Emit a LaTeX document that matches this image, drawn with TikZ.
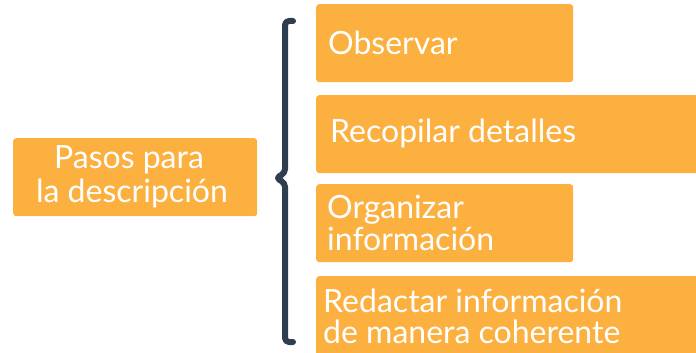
\documentclass[tikz,border=0pt]{standalone}
\usepackage{fontspec}
\setmainfont{Lato}
\definecolor{boxorange}{HTML}{FBB040}
\definecolor{bracecol}{HTML}{2E3D4F}
\begin{document}
\begin{tikzpicture}[x=1pt,y=-1pt,
  box/.style={fill=boxorange,rounded corners=3pt,anchor=north west,inner sep=0pt},
  txt/.style={text=white,font=\fontsize{32}{34}\selectfont,inner sep=0pt,anchor=base west},
  brace/.style={draw=bracecol,line width=6pt,line cap=round,line join=round}]
\useasboundingbox (0,0) rectangle (696,353);
\node[box,minimum width=244,minimum height=78] (main) at (13,138) {};
\node[box,minimum width=257,minimum height=78] (b1) at (316,4) {};
\node[box,minimum width=390,minimum height=78] (b2) at (316,95) {};
\node[box,minimum width=257,minimum height=78] (b3) at (316,184) {};
\node[box,minimum width=390,minimum height=86] (b4) at (316,276) {};
\node[txt,anchor=base] (m1) at (129,168) {Pasos para};
\node[txt,anchor=base] (m2) at (132,202) {la descripción};
\node[txt] (t1) at (328,55) {Observar};
\node[txt] (t2) at (330,142) {Recopilar detalles};
\node[txt] (t3a) at (327,218) {Organizar};
\node[txt] (t3b) at (327,250) {información};
\node[txt] (t4a) at (323,312) {Redactar información};
\node[txt] (t4b) at (323,343) {de manera coherente};
\draw[brace,rounded corners=4pt] (293,21) -- (285,21) -- (285,173) -- (276,178) -- (285,183) -- (285,342) -- (293,342);
\end{tikzpicture}
\end{document}
